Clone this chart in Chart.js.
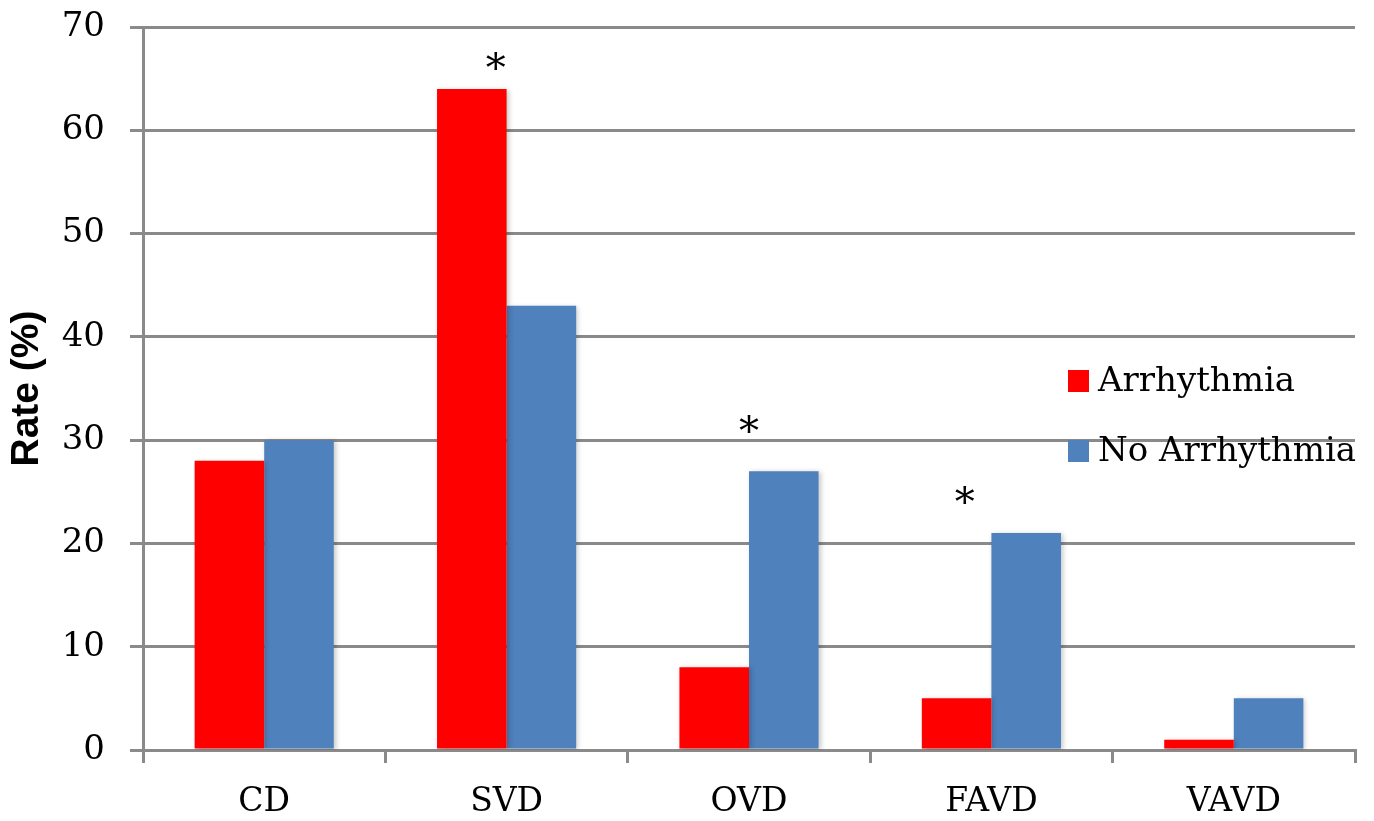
<!DOCTYPE html>
<html>
<head>
<meta charset="utf-8">
<script src="https://cdn.jsdelivr.net/npm/chart.js@4.4.1/dist/chart.umd.min.js"></script>
<style>
  html, body { margin: 0; padding: 0; background: #fff; }
  #wrap { width: 1374px; height: 821px; }
</style>
</head>
<body>
<div id="wrap"><canvas id="grafico"></canvas></div>
<script>
// Datos del gráfico
const categorias = ['CD', 'SVD', 'OVD', 'FAVD', 'VAVD'];
const arritmia = [28, 64, 8, 5, 1];
const sinArritmia = [30, 43, 27, 21, 5];
const ticksY = [0, 10, 20, 30, 40, 50, 60, 70];

// Asteriscos de significancia (categoría y altura en el eje)
const asteriscoCats = ['SVD', 'OVD', 'FAVD'];
const asteriscoValores = [66.5, 31.3, 24.4];

const ROJO = '#ff0000';
const AZUL = '#4f81bd';
const GRIS = '#8a8a8a';
const SERIF = '"DejaVu Serif", serif';

// Sombra suave en las barras
const sombraBarras = {
  id: 'sombraBarras',
  beforeDatasetsDraw(chart) {
    const ctx = chart.ctx;
    ctx.save();
    ctx.shadowColor = 'rgba(0,0,0,0.22)';
    ctx.shadowBlur = 5;
    ctx.shadowOffsetX = 2;
    ctx.shadowOffsetY = 1;
  },
  afterDatasetsDraw(chart) {
    chart.ctx.restore();
  }
};

// Asteriscos y leyenda dentro del área del gráfico
const extras = {
  id: 'extras',
  afterDatasetsDraw(chart) {
    const ctx = chart.ctx;
    const x = chart.scales.x;
    const y = chart.scales.y;
    const desplaz = [-0.045, 0, -0.11]; // fracción del ancho de categoría
    const anchoCat = x.width / categorias.length;

    ctx.save();
    ctx.fillStyle = '#000';
    ctx.font = '40px ' + SERIF;
    ctx.textAlign = 'center';
    ctx.textBaseline = 'middle';
    asteriscoCats.forEach((c, i) => {
      const px = x.getPixelForValue(categorias.indexOf(c)) + desplaz[i] * anchoCat;
      ctx.fillText('*', px, y.getPixelForValue(asteriscoValores[i]) + 7);
    });

    // leyenda
    const lx = 1068, ly = 381, paso = 70;
    ctx.textAlign = 'left';
    ctx.font = '34px ' + SERIF;
    chart.data.datasets.forEach((ds, i) => {
      ctx.fillStyle = ds.backgroundColor;
      ctx.fillRect(lx, ly + i * paso - 11, 21, 22);
      ctx.fillStyle = '#000';
      ctx.fillText(ds.label, lx + 30, ly + i * paso + 1);
    });
    ctx.restore();
  }
};

new Chart(document.getElementById('grafico'), {
  type: 'bar',
  data: {
    labels: categorias,
    datasets: [
      { label: 'Arrhythmia', data: arritmia, backgroundColor: ROJO },
      { label: 'No Arrhythmia', data: sinArritmia, backgroundColor: AZUL }
    ]
  },
  options: {
    responsive: true,
    maintainAspectRatio: false,
    animation: false,
    layout: { padding: { top: 27, right: 19, left: 0, bottom: 0 } },
    categoryPercentage: 0.574,
    barPercentage: 1,
    plugins: {
      legend: { display: false },
      tooltip: { enabled: false }
    },
    scales: {
      x: {
        offset: true,
        grid: {
          offset: true,
          drawOnChartArea: false,
          drawTicks: true,
          tickLength: 13,
          color: GRIS,
          lineWidth: 3
        },
        border: { color: GRIS, width: 3 },
        ticks: {
          color: '#000',
          font: { family: SERIF, size: 33 },
          padding: 20
        },
        afterFit(s) { s.height = 71; s.paddingLeft = 0; s.paddingRight = 0; }
      },
      y: {
        min: 0,
        max: 70,
        afterBuildTicks(s) { s.ticks = ticksY.map(v => ({ value: v })); },
        grid: {
          color: GRIS,
          lineWidth: 3,
          tickLength: 13
        },
        border: { color: GRIS, width: 3 },
        ticks: {
          color: '#000',
          font: { family: SERIF, size: 34 },
          padding: 25
        },
        title: {
          display: true,
          text: 'Rate (%)',
          color: '#000',
          font: { family: '"Liberation Sans", Arial, sans-serif', size: 39, weight: 'bold' },
          padding: { top: 4, bottom: 0 }
        },
        afterFit(s) { s.width = 143; s.paddingTop = 0; s.paddingBottom = 0; }
      }
    }
  },
  plugins: [sombraBarras, extras]
});
</script>
</body>
</html>
